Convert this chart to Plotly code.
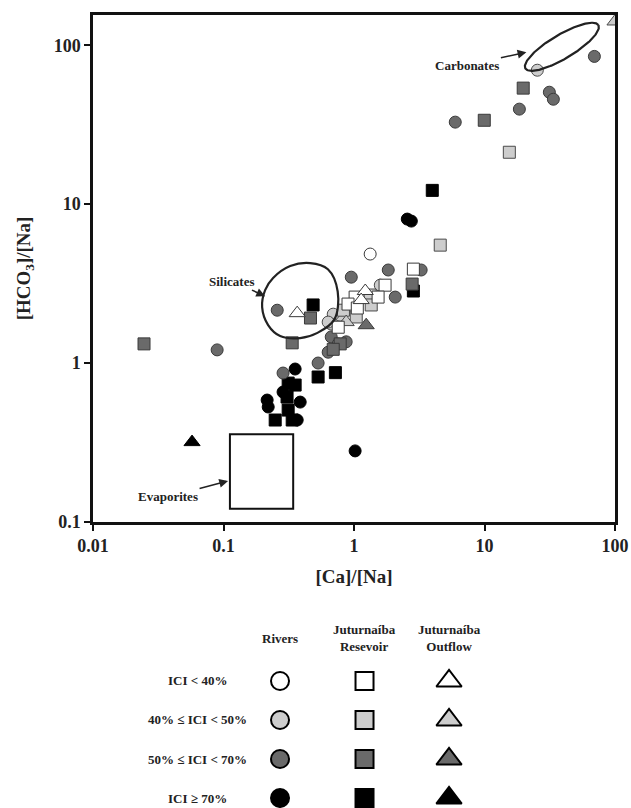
import numpy as np
import plotly.graph_objects as go

# ---------------- data: [Ca]/[Na] (x) and [HCO3]/[Na] (y) ----------------
# Rivers (circles)
rivers_lt40_x = [1.33]
rivers_lt40_y = [4.85]
rivers_40_50_x = [25.4, 1.59, 0.784, 0.693, 0.669, 0.634]
rivers_40_50_y = [69.6, 3.09, 2.00, 2.03, 1.76, 1.81]
rivers_50_70_x = [69.5, 31.4, 33.7, 18.5, 5.97, 3.27, 1.83, 0.953, 2.07, 0.258,
                  0.0894, 0.669, 0.871, 0.757, 0.634, 0.531, 0.286]
rivers_50_70_y = [85.0, 50.6, 45.7, 39.6, 32.8, 3.85, 3.85, 3.47, 2.60, 2.15,
                  1.21, 1.46, 1.36, 1.32, 1.17, 1.00, 0.865]
rivers_ge70_x = [2.56, 2.75, 0.354, 0.216, 0.220, 0.387, 0.367, 0.286, 1.02]
rivers_ge70_y = [8.05, 7.82, 0.917, 0.585, 0.529, 0.568, 0.438, 0.657, 0.28]

# Juturnaíba reservoir (squares)
reservoir_lt40_x = [2.85, 1.73, 1.53, 1.02, 0.90, 1.06, 0.757]
reservoir_lt40_y = [3.90, 3.09, 2.60, 2.60, 2.35, 2.22, 1.68]
reservoir_40_50_x = [4.58, 15.5, 1.33, 1.355, 1.04, 0.83]
reservoir_40_50_y = [5.52, 21.2, 2.68, 2.32, 1.95, 2.15]
reservoir_50_70_x = [19.8, 9.96, 2.79, 0.464, 0.336, 0.0246, 0.784, 0.693]
reservoir_50_70_y = [53.7, 33.7, 3.14, 1.92, 1.34, 1.32, 1.32, 1.22]
reservoir_ge70_x = [3.98, 2.85, 0.486, 0.531, 0.72, 0.249, 0.313, 0.354, 0.307, 0.313, 0.336]
reservoir_ge70_y = [12.2, 2.84, 2.32, 0.817, 0.87, 0.438, 0.748, 0.727, 0.611, 0.506, 0.438]

# Juturnaíba outflow (triangles)
outflow_lt40_x = [0.367, 1.22, 1.135]
outflow_lt40_y = [2.06, 2.84, 2.49]
outflow_40_50_x = [100.0, 0.871]
outflow_40_50_y = [141.0, 1.81]
outflow_50_70_x = [1.24]
outflow_50_70_y = [1.73]
outflow_ge70_x = [0.0574]
outflow_ge70_y = [0.318]

# Evaporites end-member box ([Ca]/[Na], [HCO3]/[Na])
evap_ca = [0.112, 0.342]
evap_hco3 = [0.121, 0.357]

# Tick labels
x_ticks = [0.01, 0.1, 1, 10, 100]
x_tick_text = ["0.01", "0.1", "1", "10", "100"]
y_ticks = [0.1, 1, 10, 100]
y_tick_text = ["0.1", "1", "10", "100"]

# Legend table
ici_classes = ["ICI < 40%", "40% ≤ ICI < 50%", "50% ≤ ICI < 70%", "ICI ≥ 70%"]
source_groups = ["Rivers", "Juturnaíba<br>Resevoir", "Juturnaíba<br>Outflow"]

# ---------------- styles ----------------
SERIF = "Liberation Serif"
fills = ["#ffffff", "#cdcdcd", "#6a6a6a", "#000000"]
edges = ["#3a3a3a", "#4a4a4a", "#3a3a3a", "#000000"]
symbols = ["circle", "square", "triangle-up"]
plot_sizes = [12, 12, 14]
legend_sizes = [18, 18, 22]

groups = [
    [(rivers_lt40_x, rivers_lt40_y), (rivers_40_50_x, rivers_40_50_y),
     (rivers_50_70_x, rivers_50_70_y), (rivers_ge70_x, rivers_ge70_y)],
    [(reservoir_lt40_x, reservoir_lt40_y), (reservoir_40_50_x, reservoir_40_50_y),
     (reservoir_50_70_x, reservoir_50_70_y), (reservoir_ge70_x, reservoir_ge70_y)],
    [(outflow_lt40_x, outflow_lt40_y), (outflow_40_50_x, outflow_40_50_y),
     (outflow_50_70_x, outflow_50_70_y), (outflow_ge70_x, outflow_ge70_y)],
]

fig = go.Figure()

# darkest classes first so lighter markers sit on top
for cls in [3, 2, 1, 0]:
    for g in range(3):
        xs, ys = groups[g][cls]
        fig.add_trace(go.Scatter(
            x=xs, y=ys, mode="markers", xaxis="x", yaxis="y",
            marker=dict(symbol=symbols[g], size=plot_sizes[g], color=fills[cls],
                        line=dict(color=edges[cls], width=1)),
            showlegend=False, hoverinfo="x+y"))

# ---------------- end-member outlines ----------------
# Carbonates: tilted ellipse in log-log space
t = np.linspace(0, 2 * np.pi, 200)
carb_center = (1.593, 1.990)
carb_major = (0.280, 0.136)
carb_minor = (-0.045, 0.066)
carb_lx = carb_center[0] + carb_major[0] * np.cos(t) + carb_minor[0] * np.sin(t)
carb_ly = carb_center[1] + carb_major[1] * np.cos(t) + carb_minor[1] * np.sin(t)
fig.add_trace(go.Scatter(x=10 ** carb_lx, y=10 ** carb_ly, mode="lines",
                         line=dict(color="#222222", width=2.2),
                         showlegend=False, hoverinfo="skip"))

# Silicates: closed smooth outline (log10 coordinates)
sil_lx = [-0.336, -0.200, -0.125, -0.150, -0.280, -0.413, -0.566, -0.658, -0.704, -0.681, -0.620, -0.489, -0.336]
sil_ly = [0.629, 0.590, 0.450, 0.275, 0.190, 0.157, 0.170, 0.239, 0.352, 0.459, 0.535, 0.610, 0.629]
fig.add_trace(go.Scatter(x=[10 ** v for v in sil_lx], y=[10 ** v for v in sil_ly],
                         mode="lines", line=dict(color="#222222", width=2.2, shape="spline"),
                         showlegend=False, hoverinfo="skip"))

# Evaporites box
fig.add_shape(type="rect", xref="x", yref="y",
              x0=evap_ca[0], x1=evap_ca[1], y0=evap_hco3[0], y1=evap_hco3[1],
              line=dict(color="#111111", width=2), fillcolor="rgba(0,0,0,0)")

# ---------------- labels with arrows (arrow tip in log10 coords, text offset in px) ----------------
label_font = dict(family=SERIF, size=13, color="#222222", weight="bold")
labels = [
    ("Silicates", (-0.681, 0.421), -33, -15),
    ("Carbonates", (1.321, 1.956), -59, 13),
    ("Evaporites", (-0.965, -0.742), -60, 16),
]
for text, (hx, hy), axo, ayo in labels:
    fig.add_annotation(x=hx, y=hy, xref="x", yref="y", text=text,
                       showarrow=True, ax=axo, ay=ayo, arrowhead=2,
                       arrowsize=1.1, arrowwidth=1.6, arrowcolor="#222222",
                       standoff=0, startstandoff=0, font=label_font)

# ---------------- legend table ----------------
for g in range(3):
    for cls in range(4):
        fig.add_trace(go.Scatter(
            x=[g], y=[cls], mode="markers", xaxis="x2", yaxis="y2",
            marker=dict(symbol=symbols[g], size=legend_sizes[g], color=fills[cls],
                        line=dict(color="#000000", width=2)),
            showlegend=False, hoverinfo="skip", cliponaxis=False))

table_font = dict(family=SERIF, size=13, color="#222222", weight="bold")
for g, name in enumerate(source_groups):
    fig.add_annotation(x=g, y=-1.10, xref="x2", yref="y2", text=name,
                       showarrow=False, font=table_font, align="center")
for cls, name in enumerate(ici_classes):
    fig.add_annotation(x=-0.98, y=cls, xref="x2", yref="y2", text=name,
                       showarrow=False, font=table_font, align="center")

# ---------------- axes ----------------
tick_font = dict(family=SERIF, size=18, color="#222222", weight="bold")
title_font = dict(family=SERIF, size=19, color="#222222", weight="bold")
axis_common = dict(showgrid=False, zeroline=False, showline=True, linecolor="#111111",
                   linewidth=2.5, mirror=True, ticks="outside", ticklen=6, tickwidth=2,
                   tickcolor="#111111", tickfont=tick_font, automargin=False)

fig.update_layout(
    width=631, height=808,
    margin=dict(l=93, r=16, t=15, b=0, pad=0),
    paper_bgcolor="white", plot_bgcolor="white",
    showlegend=False,
    xaxis=dict(type="log", range=[-2, 2], domain=[0, 1], anchor="y",
               tickvals=x_ticks, ticktext=x_tick_text,
               title=dict(text="[Ca]/[Na]", font=title_font, standoff=15),
               **axis_common),
    yaxis=dict(type="log", range=[-1, 2.19], domain=[0.3607, 1], anchor="x",
               tickvals=y_ticks, ticktext=y_tick_text,
               title=dict(text="[HCO<sub>3</sub>]/[Na]", font=title_font, standoff=18),
               **axis_common),
    xaxis2=dict(domain=[0, 1], range=[-2.213, 3.964], anchor="y2", visible=False),
    yaxis2=dict(domain=[0, 0.2371], range=[3.256, -1.564], anchor="x2", visible=False),
)

fig.write_html("out.html")
